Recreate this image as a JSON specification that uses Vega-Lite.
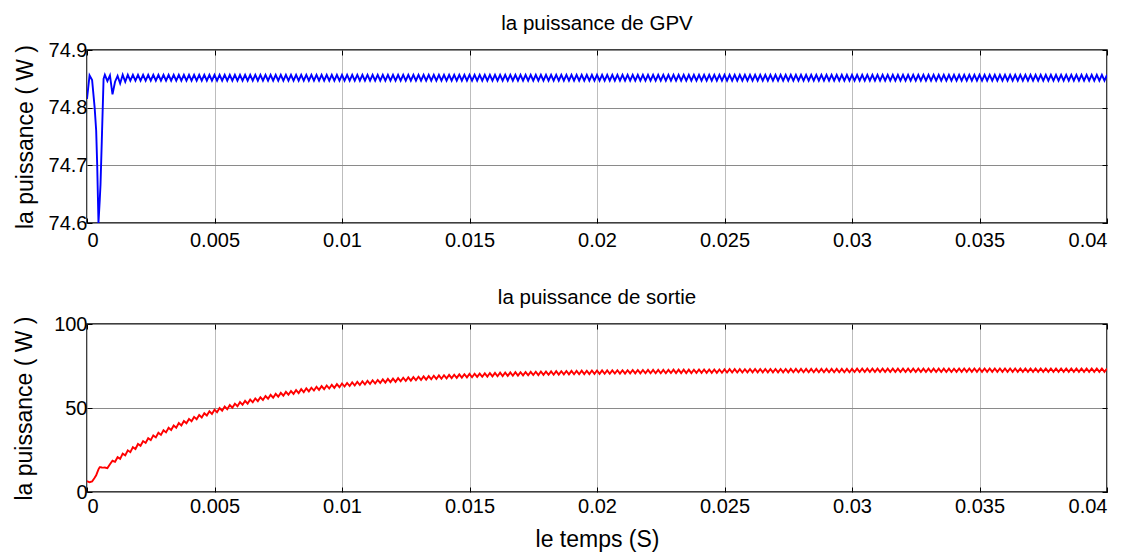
{
"$schema":"https://vega.github.io/schema/vega-lite/v6.json",
"background":"white",
"padding":{"left":12,"top":12,"right":5,"bottom":5},
"config":{
"font":"Liberation Sans",
"view":{"stroke":"black","strokeWidth":1.5},
"axis":{"labelFont":"Liberation Sans","labelFontSize":20,"labelColor":"#000","titleFont":"Liberation Sans","titleFontSize":23,"titleFontWeight":"normal","titleColor":"#000","domain":false,"grid":true,"gridWidth":1,"tickColor":"#000","tickSize":-5,"tickWidth":1,"labelPadding":5},
"axisX":{"gridColor":"#bdbdbd"},
"axisY":{"gridColor":"#8a8a8a"},
"title":{"font":"Liberation Sans","fontSize":20.5,"fontWeight":"normal","color":"#000","anchor":"middle","offset":6}
},
"spacing":101,
"bounds":"flush",
"datasets":{"d":[
{"t":0,"a":74.815,"b":6.5},
{"t":0.0001,"a":74.856,"b":5.8},
{"t":0.0002,"a":74.848,"b":6.3},
{"t":0.0003,"a":74.8,"b":8.5},
{"t":0.00036,"a":74.76,"b":10},
{"t":0.0004,"a":74.7,"b":11.5},
{"t":0.00045,"a":74.6,"b":13.5},
{"t":0.0005,"a":74.64,"b":14.8},
{"t":0.00053,"a":74.667,"b":14.8},
{"t":0.00058,"a":74.742,"b":14.6},
{"t":0.00065,"a":74.85,"b":14.5},
{"t":0.0007,"a":74.857,"b":14.6},
{"t":0.0008,"a":74.846,"b":14.2},
{"t":0.0009,"a":74.856,"b":16.5},
{"t":0.0010,"a":74.823,"b":18.6},
{"t":0.0011,"a":74.845,"b":18.0},
{"t":0.0012,"a":74.855,"b":20.7},
{"t":0.0013,"a":74.842,"b":19.7},
{"t":0.0014,"a":74.857,"b":22.8},
{"t":0.0015,"a":74.845,"b":21.8},
{"t":0.0016,"a":74.857,"b":24.8},
{"t":0.0017,"a":74.847,"b":23.7},
{"t":0.0018,"a":74.857,"b":26.7},
{"t":0.0019,"a":74.847,"b":25.6},
{"t":0.0020,"a":74.857,"b":28.6},
{"t":0.0021,"a":74.847,"b":27.5},
{"t":0.0022,"a":74.857,"b":30.3},
{"t":0.0023,"a":74.847,"b":29.2},
{"t":0.0024,"a":74.857,"b":32.0},
{"t":0.0025,"a":74.847,"b":30.9},
{"t":0.0026,"a":74.857,"b":33.7},
{"t":0.0027,"a":74.847,"b":32.5},
{"t":0.0028,"a":74.857,"b":35.3},
{"t":0.0029,"a":74.847,"b":34.0},
{"t":0.0030,"a":74.857,"b":36.8},
{"t":0.0031,"a":74.847,"b":35.5},
{"t":0.0032,"a":74.857,"b":38.2},
{"t":0.0033,"a":74.847,"b":36.9},
{"t":0.0034,"a":74.857,"b":39.6},
{"t":0.0035,"a":74.847,"b":38.3},
{"t":0.0036,"a":74.857,"b":41.0},
{"t":0.0037,"a":74.847,"b":39.6},
{"t":0.0038,"a":74.857,"b":42.3},
{"t":0.0039,"a":74.847,"b":40.9},
{"t":0.0040,"a":74.857,"b":43.5},
{"t":0.0041,"a":74.847,"b":42.1},
{"t":0.0042,"a":74.857,"b":44.7},
{"t":0.0043,"a":74.847,"b":43.3},
{"t":0.0044,"a":74.857,"b":45.8},
{"t":0.0045,"a":74.847,"b":44.4},
{"t":0.0046,"a":74.857,"b":46.9},
{"t":0.0047,"a":74.847,"b":45.5},
{"t":0.0048,"a":74.857,"b":48.0},
{"t":0.0049,"a":74.847,"b":46.5},
{"t":0.0050,"a":74.857,"b":49.0},
{"t":0.0051,"a":74.847,"b":47.5},
{"t":0.0052,"a":74.857,"b":50.0},
{"t":0.0053,"a":74.847,"b":48.4},
{"t":0.0054,"a":74.857,"b":50.9},
{"t":0.0055,"a":74.847,"b":49.3},
{"t":0.0056,"a":74.857,"b":51.8},
{"t":0.0057,"a":74.847,"b":50.2},
{"t":0.0058,"a":74.857,"b":52.6},
{"t":0.0059,"a":74.847,"b":51.1},
{"t":0.0060,"a":74.857,"b":53.5},
{"t":0.0061,"a":74.847,"b":51.9},
{"t":0.0062,"a":74.857,"b":54.3},
{"t":0.0063,"a":74.847,"b":52.6},
{"t":0.0064,"a":74.857,"b":55.0},
{"t":0.0065,"a":74.847,"b":53.4},
{"t":0.0066,"a":74.857,"b":55.7},
{"t":0.0067,"a":74.847,"b":54.1},
{"t":0.0068,"a":74.857,"b":56.4},
{"t":0.0069,"a":74.847,"b":54.8},
{"t":0.0070,"a":74.857,"b":57.1},
{"t":0.0071,"a":74.847,"b":55.5},
{"t":0.0072,"a":74.857,"b":57.8},
{"t":0.0073,"a":74.847,"b":56.1},
{"t":0.0074,"a":74.857,"b":58.4},
{"t":0.0075,"a":74.847,"b":56.7},
{"t":0.0076,"a":74.857,"b":59.0},
{"t":0.0077,"a":74.847,"b":57.3},
{"t":0.0078,"a":74.857,"b":59.6},
{"t":0.0079,"a":74.847,"b":57.9},
{"t":0.0080,"a":74.857,"b":60.1},
{"t":0.0081,"a":74.847,"b":58.4},
{"t":0.0082,"a":74.857,"b":60.7},
{"t":0.0083,"a":74.847,"b":58.9},
{"t":0.0084,"a":74.857,"b":61.2},
{"t":0.0085,"a":74.847,"b":59.4},
{"t":0.0086,"a":74.857,"b":61.7},
{"t":0.0087,"a":74.847,"b":59.9},
{"t":0.0088,"a":74.857,"b":62.1},
{"t":0.0089,"a":74.847,"b":60.4},
{"t":0.0090,"a":74.857,"b":62.6},
{"t":0.0091,"a":74.847,"b":60.8},
{"t":0.0092,"a":74.857,"b":63.0},
{"t":0.0093,"a":74.847,"b":61.2},
{"t":0.0094,"a":74.857,"b":63.4},
{"t":0.0095,"a":74.847,"b":61.6},
{"t":0.0096,"a":74.857,"b":63.8},
{"t":0.0097,"a":74.847,"b":62.0},
{"t":0.0098,"a":74.857,"b":64.2},
{"t":0.0099,"a":74.847,"b":62.4},
{"t":0.0100,"a":74.857,"b":64.6},
{"t":0.0101,"a":74.847,"b":62.8},
{"t":0.0102,"a":74.857,"b":64.9},
{"t":0.0103,"a":74.847,"b":63.1},
{"t":0.0104,"a":74.857,"b":65.3},
{"t":0.0105,"a":74.847,"b":63.4},
{"t":0.0106,"a":74.857,"b":65.6},
{"t":0.0107,"a":74.847,"b":63.7},
{"t":0.0108,"a":74.857,"b":65.9},
{"t":0.0109,"a":74.847,"b":64.0},
{"t":0.0110,"a":74.857,"b":66.2},
{"t":0.0111,"a":74.847,"b":64.3},
{"t":0.0112,"a":74.857,"b":66.5},
{"t":0.0113,"a":74.847,"b":64.6},
{"t":0.0114,"a":74.857,"b":66.7},
{"t":0.0115,"a":74.847,"b":64.9},
{"t":0.0116,"a":74.857,"b":67.0},
{"t":0.0117,"a":74.847,"b":65.1},
{"t":0.0118,"a":74.857,"b":67.3},
{"t":0.0119,"a":74.847,"b":65.4},
{"t":0.0120,"a":74.857,"b":67.5},
{"t":0.0121,"a":74.847,"b":65.6},
{"t":0.0122,"a":74.857,"b":67.8},
{"t":0.0123,"a":74.847,"b":65.9},
{"t":0.0124,"a":74.857,"b":68.0},
{"t":0.0125,"a":74.847,"b":66.1},
{"t":0.0126,"a":74.857,"b":68.2},
{"t":0.0127,"a":74.847,"b":66.3},
{"t":0.0128,"a":74.857,"b":68.4},
{"t":0.0129,"a":74.847,"b":66.5},
{"t":0.0130,"a":74.857,"b":68.6},
{"t":0.0131,"a":74.847,"b":66.7},
{"t":0.0132,"a":74.857,"b":68.8},
{"t":0.0133,"a":74.847,"b":66.9},
{"t":0.0134,"a":74.857,"b":69.0},
{"t":0.0135,"a":74.847,"b":67.1},
{"t":0.0136,"a":74.857,"b":69.2},
{"t":0.0137,"a":74.847,"b":67.3},
{"t":0.0138,"a":74.857,"b":69.4},
{"t":0.0139,"a":74.847,"b":67.4},
{"t":0.0140,"a":74.857,"b":69.5},
{"t":0.0141,"a":74.847,"b":67.6},
{"t":0.0142,"a":74.857,"b":69.7},
{"t":0.0143,"a":74.847,"b":67.8},
{"t":0.0144,"a":74.857,"b":69.8},
{"t":0.0145,"a":74.847,"b":67.9},
{"t":0.0146,"a":74.857,"b":70.0},
{"t":0.0147,"a":74.847,"b":68.1},
{"t":0.0148,"a":74.857,"b":70.1},
{"t":0.0149,"a":74.847,"b":68.2},
{"t":0.0150,"a":74.857,"b":70.3},
{"t":0.0151,"a":74.847,"b":68.3},
{"t":0.0152,"a":74.857,"b":70.4},
{"t":0.0153,"a":74.847,"b":68.5},
{"t":0.0154,"a":74.857,"b":70.5},
{"t":0.0155,"a":74.847,"b":68.6},
{"t":0.0156,"a":74.857,"b":70.6},
{"t":0.0157,"a":74.847,"b":68.7},
{"t":0.0158,"a":74.857,"b":70.8},
{"t":0.0159,"a":74.847,"b":68.8},
{"t":0.0160,"a":74.857,"b":70.9},
{"t":0.0161,"a":74.847,"b":68.9},
{"t":0.0162,"a":74.857,"b":71.0},
{"t":0.0163,"a":74.847,"b":69.0},
{"t":0.0164,"a":74.857,"b":71.1},
{"t":0.0165,"a":74.847,"b":69.1},
{"t":0.0166,"a":74.857,"b":71.2},
{"t":0.0167,"a":74.847,"b":69.2},
{"t":0.0168,"a":74.857,"b":71.3},
{"t":0.0169,"a":74.847,"b":69.3},
{"t":0.0170,"a":74.857,"b":71.3},
{"t":0.0171,"a":74.847,"b":69.4},
{"t":0.0172,"a":74.857,"b":71.4},
{"t":0.0173,"a":74.847,"b":69.5},
{"t":0.0174,"a":74.857,"b":71.5},
{"t":0.0175,"a":74.847,"b":69.6},
{"t":0.0176,"a":74.857,"b":71.6},
{"t":0.0177,"a":74.847,"b":69.6},
{"t":0.0178,"a":74.857,"b":71.7},
{"t":0.0179,"a":74.847,"b":69.7},
{"t":0.0180,"a":74.857,"b":71.7},
{"t":0.0181,"a":74.847,"b":69.8},
{"t":0.0182,"a":74.857,"b":71.8},
{"t":0.0183,"a":74.847,"b":69.8},
{"t":0.0184,"a":74.857,"b":71.9},
{"t":0.0185,"a":74.847,"b":69.9},
{"t":0.0186,"a":74.857,"b":71.9},
{"t":0.0187,"a":74.847,"b":70.0},
{"t":0.0188,"a":74.857,"b":72.0},
{"t":0.0189,"a":74.847,"b":70.0},
{"t":0.0190,"a":74.857,"b":72.1},
{"t":0.0191,"a":74.847,"b":70.1},
{"t":0.0192,"a":74.857,"b":72.1},
{"t":0.0193,"a":74.847,"b":70.1},
{"t":0.0194,"a":74.857,"b":72.2},
{"t":0.0195,"a":74.847,"b":70.2},
{"t":0.0196,"a":74.857,"b":72.2},
{"t":0.0197,"a":74.847,"b":70.2},
{"t":0.0198,"a":74.857,"b":72.3},
{"t":0.0199,"a":74.847,"b":70.3},
{"t":0.0200,"a":74.857,"b":72.3},
{"t":0.0201,"a":74.847,"b":70.3},
{"t":0.0202,"a":74.857,"b":72.4},
{"t":0.0203,"a":74.847,"b":70.4},
{"t":0.0204,"a":74.857,"b":72.4},
{"t":0.0205,"a":74.847,"b":70.4},
{"t":0.0206,"a":74.857,"b":72.4},
{"t":0.0207,"a":74.847,"b":70.5},
{"t":0.0208,"a":74.857,"b":72.5},
{"t":0.0209,"a":74.847,"b":70.5},
{"t":0.0210,"a":74.857,"b":72.5},
{"t":0.0211,"a":74.847,"b":70.5},
{"t":0.0212,"a":74.857,"b":72.5},
{"t":0.0213,"a":74.847,"b":70.6},
{"t":0.0214,"a":74.857,"b":72.6},
{"t":0.0215,"a":74.847,"b":70.6},
{"t":0.0216,"a":74.857,"b":72.6},
{"t":0.0217,"a":74.847,"b":70.6},
{"t":0.0218,"a":74.857,"b":72.6},
{"t":0.0219,"a":74.847,"b":70.7},
{"t":0.0220,"a":74.857,"b":72.7},
{"t":0.0221,"a":74.847,"b":70.7},
{"t":0.0222,"a":74.857,"b":72.7},
{"t":0.0223,"a":74.847,"b":70.7},
{"t":0.0224,"a":74.857,"b":72.7},
{"t":0.0225,"a":74.847,"b":70.7},
{"t":0.0226,"a":74.857,"b":72.7},
{"t":0.0227,"a":74.847,"b":70.7},
{"t":0.0228,"a":74.857,"b":72.7},
{"t":0.0229,"a":74.847,"b":70.8},
{"t":0.0230,"a":74.857,"b":72.8},
{"t":0.0231,"a":74.847,"b":70.8},
{"t":0.0232,"a":74.857,"b":72.8},
{"t":0.0233,"a":74.847,"b":70.8},
{"t":0.0234,"a":74.857,"b":72.8},
{"t":0.0235,"a":74.847,"b":70.8},
{"t":0.0236,"a":74.857,"b":72.8},
{"t":0.0237,"a":74.847,"b":70.8},
{"t":0.0238,"a":74.857,"b":72.8},
{"t":0.0239,"a":74.847,"b":70.9},
{"t":0.0240,"a":74.857,"b":72.9},
{"t":0.0241,"a":74.847,"b":70.9},
{"t":0.0242,"a":74.857,"b":72.9},
{"t":0.0243,"a":74.847,"b":70.9},
{"t":0.0244,"a":74.857,"b":72.9},
{"t":0.0245,"a":74.847,"b":70.9},
{"t":0.0246,"a":74.857,"b":72.9},
{"t":0.0247,"a":74.847,"b":70.9},
{"t":0.0248,"a":74.857,"b":72.9},
{"t":0.0249,"a":74.847,"b":71.0},
{"t":0.0250,"a":74.857,"b":73.0},
{"t":0.0251,"a":74.847,"b":71.1},
{"t":0.0252,"a":74.857,"b":73.1},
{"t":0.0253,"a":74.847,"b":71.1},
{"t":0.0254,"a":74.857,"b":73.1},
{"t":0.0255,"a":74.847,"b":71.1},
{"t":0.0256,"a":74.857,"b":73.1},
{"t":0.0257,"a":74.847,"b":71.1},
{"t":0.0258,"a":74.857,"b":73.1},
{"t":0.0259,"a":74.847,"b":71.2},
{"t":0.0260,"a":74.857,"b":73.2},
{"t":0.0261,"a":74.847,"b":71.2},
{"t":0.0262,"a":74.857,"b":73.2},
{"t":0.0263,"a":74.847,"b":71.2},
{"t":0.0264,"a":74.857,"b":73.2},
{"t":0.0265,"a":74.847,"b":71.2},
{"t":0.0266,"a":74.857,"b":73.2},
{"t":0.0267,"a":74.847,"b":71.2},
{"t":0.0268,"a":74.857,"b":73.2},
{"t":0.0269,"a":74.847,"b":71.2},
{"t":0.0270,"a":74.857,"b":73.2},
{"t":0.0271,"a":74.847,"b":71.2},
{"t":0.0272,"a":74.857,"b":73.2},
{"t":0.0273,"a":74.847,"b":71.2},
{"t":0.0274,"a":74.857,"b":73.2},
{"t":0.0275,"a":74.847,"b":71.2},
{"t":0.0276,"a":74.857,"b":73.3},
{"t":0.0277,"a":74.847,"b":71.3},
{"t":0.0278,"a":74.857,"b":73.3},
{"t":0.0279,"a":74.847,"b":71.3},
{"t":0.0280,"a":74.857,"b":73.3},
{"t":0.0281,"a":74.847,"b":71.3},
{"t":0.0282,"a":74.857,"b":73.3},
{"t":0.0283,"a":74.847,"b":71.3},
{"t":0.0284,"a":74.857,"b":73.3},
{"t":0.0285,"a":74.847,"b":71.3},
{"t":0.0286,"a":74.857,"b":73.3},
{"t":0.0287,"a":74.847,"b":71.3},
{"t":0.0288,"a":74.857,"b":73.3},
{"t":0.0289,"a":74.847,"b":71.3},
{"t":0.0290,"a":74.857,"b":73.3},
{"t":0.0291,"a":74.847,"b":71.3},
{"t":0.0292,"a":74.857,"b":73.3},
{"t":0.0293,"a":74.847,"b":71.3},
{"t":0.0294,"a":74.857,"b":73.3},
{"t":0.0295,"a":74.847,"b":71.3},
{"t":0.0296,"a":74.857,"b":73.3},
{"t":0.0297,"a":74.847,"b":71.3},
{"t":0.0298,"a":74.857,"b":73.3},
{"t":0.0299,"a":74.847,"b":71.3},
{"t":0.0300,"a":74.857,"b":73.3},
{"t":0.0301,"a":74.847,"b":71.4},
{"t":0.0302,"a":74.857,"b":73.4},
{"t":0.0303,"a":74.847,"b":71.4},
{"t":0.0304,"a":74.857,"b":73.4},
{"t":0.0305,"a":74.847,"b":71.4},
{"t":0.0306,"a":74.857,"b":73.4},
{"t":0.0307,"a":74.847,"b":71.4},
{"t":0.0308,"a":74.857,"b":73.4},
{"t":0.0309,"a":74.847,"b":71.4},
{"t":0.0310,"a":74.857,"b":73.4},
{"t":0.0311,"a":74.847,"b":71.4},
{"t":0.0312,"a":74.857,"b":73.4},
{"t":0.0313,"a":74.847,"b":71.4},
{"t":0.0314,"a":74.857,"b":73.4},
{"t":0.0315,"a":74.847,"b":71.4},
{"t":0.0316,"a":74.857,"b":73.4},
{"t":0.0317,"a":74.847,"b":71.4},
{"t":0.0318,"a":74.857,"b":73.4},
{"t":0.0319,"a":74.847,"b":71.4},
{"t":0.0320,"a":74.857,"b":73.4},
{"t":0.0321,"a":74.847,"b":71.4},
{"t":0.0322,"a":74.857,"b":73.4},
{"t":0.0323,"a":74.847,"b":71.4},
{"t":0.0324,"a":74.857,"b":73.4},
{"t":0.0325,"a":74.847,"b":71.4},
{"t":0.0326,"a":74.857,"b":73.4},
{"t":0.0327,"a":74.847,"b":71.4},
{"t":0.0328,"a":74.857,"b":73.4},
{"t":0.0329,"a":74.847,"b":71.4},
{"t":0.0330,"a":74.857,"b":73.4},
{"t":0.0331,"a":74.847,"b":71.4},
{"t":0.0332,"a":74.857,"b":73.4},
{"t":0.0333,"a":74.847,"b":71.4},
{"t":0.0334,"a":74.857,"b":73.4},
{"t":0.0335,"a":74.847,"b":71.4},
{"t":0.0336,"a":74.857,"b":73.4},
{"t":0.0337,"a":74.847,"b":71.4},
{"t":0.0338,"a":74.857,"b":73.4},
{"t":0.0339,"a":74.847,"b":71.4},
{"t":0.0340,"a":74.857,"b":73.4},
{"t":0.0341,"a":74.847,"b":71.5},
{"t":0.0342,"a":74.857,"b":73.5},
{"t":0.0343,"a":74.847,"b":71.5},
{"t":0.0344,"a":74.857,"b":73.5},
{"t":0.0345,"a":74.847,"b":71.5},
{"t":0.0346,"a":74.857,"b":73.5},
{"t":0.0347,"a":74.847,"b":71.5},
{"t":0.0348,"a":74.857,"b":73.5},
{"t":0.0349,"a":74.847,"b":71.5},
{"t":0.0350,"a":74.857,"b":73.5},
{"t":0.0351,"a":74.847,"b":71.5},
{"t":0.0352,"a":74.857,"b":73.5},
{"t":0.0353,"a":74.847,"b":71.5},
{"t":0.0354,"a":74.857,"b":73.5},
{"t":0.0355,"a":74.847,"b":71.5},
{"t":0.0356,"a":74.857,"b":73.5},
{"t":0.0357,"a":74.847,"b":71.5},
{"t":0.0358,"a":74.857,"b":73.5},
{"t":0.0359,"a":74.847,"b":71.5},
{"t":0.0360,"a":74.857,"b":73.5},
{"t":0.0361,"a":74.847,"b":71.5},
{"t":0.0362,"a":74.857,"b":73.5},
{"t":0.0363,"a":74.847,"b":71.5},
{"t":0.0364,"a":74.857,"b":73.5},
{"t":0.0365,"a":74.847,"b":71.5},
{"t":0.0366,"a":74.857,"b":73.5},
{"t":0.0367,"a":74.847,"b":71.5},
{"t":0.0368,"a":74.857,"b":73.5},
{"t":0.0369,"a":74.847,"b":71.5},
{"t":0.0370,"a":74.857,"b":73.5},
{"t":0.0371,"a":74.847,"b":71.5},
{"t":0.0372,"a":74.857,"b":73.5},
{"t":0.0373,"a":74.847,"b":71.5},
{"t":0.0374,"a":74.857,"b":73.5},
{"t":0.0375,"a":74.847,"b":71.5},
{"t":0.0376,"a":74.857,"b":73.5},
{"t":0.0377,"a":74.847,"b":71.5},
{"t":0.0378,"a":74.857,"b":73.5},
{"t":0.0379,"a":74.847,"b":71.5},
{"t":0.0380,"a":74.857,"b":73.5},
{"t":0.0381,"a":74.847,"b":71.5},
{"t":0.0382,"a":74.857,"b":73.5},
{"t":0.0383,"a":74.847,"b":71.5},
{"t":0.0384,"a":74.857,"b":73.5},
{"t":0.0385,"a":74.847,"b":71.5},
{"t":0.0386,"a":74.857,"b":73.5},
{"t":0.0387,"a":74.847,"b":71.5},
{"t":0.0388,"a":74.857,"b":73.5},
{"t":0.0389,"a":74.847,"b":71.5},
{"t":0.0390,"a":74.857,"b":73.5},
{"t":0.0391,"a":74.847,"b":71.5},
{"t":0.0392,"a":74.857,"b":73.5},
{"t":0.0393,"a":74.847,"b":71.5},
{"t":0.0394,"a":74.857,"b":73.5},
{"t":0.0395,"a":74.847,"b":71.5},
{"t":0.0396,"a":74.857,"b":73.5},
{"t":0.0397,"a":74.847,"b":71.5},
{"t":0.0398,"a":74.857,"b":73.5},
{"t":0.0399,"a":74.847,"b":71.5},
{"t":0.0400,"a":74.857,"b":73.5}
]},
"vconcat":[
{"width":1020,"height":173,"title":"la puissance de GPV","data":{"name":"d"},
"resolve":{"axis":{"x":"independent","y":"independent"}},
"layer":[
{"mark":{"type":"line","color":"#0000ff","strokeWidth":1.9,"clip":true},
"encoding":{
"x":{"field":"t","type":"quantitative","scale":{"domain":[0,0.04],"nice":false,"zero":false},"axis":{"values":[0,0.005,0.01,0.015,0.02,0.025,0.03,0.035,0.04],"format":"~g","title":null,"labelPadding":12}},
"y":{"field":"a","type":"quantitative","scale":{"domain":[74.6,74.9],"nice":false,"zero":false},"axis":{"values":[74.6,74.7,74.8,74.9],"format":".1f","title":"la puissance ( W )","titlePadding":11}}}},
{"mark":{"type":"line","opacity":0},
"encoding":{
"x":{"field":"t","type":"quantitative","axis":{"orient":"top","values":[0,0.005,0.01,0.015,0.02,0.025,0.03,0.035,0.04],"labels":false,"grid":false,"title":null}},
"y":{"field":"a","type":"quantitative","axis":{"orient":"right","values":[74.6,74.7,74.8,74.9],"labels":false,"grid":false,"title":null}}}}
]},
{"width":1020,"height":168,"title":"la puissance de sortie","data":{"name":"d"},
"resolve":{"axis":{"x":"independent","y":"independent"}},
"layer":[
{"mark":{"type":"line","color":"#ff0000","strokeWidth":1.9,"clip":true},
"encoding":{
"x":{"field":"t","type":"quantitative","scale":{"domain":[0,0.04],"nice":false,"zero":false},"axis":{"values":[0,0.005,0.01,0.015,0.02,0.025,0.03,0.035,0.04],"format":"~g","title":"le temps (S)","labelPadding":9,"titlePadding":12}},
"y":{"field":"b","type":"quantitative","scale":{"domain":[0,100],"nice":false,"zero":false},"axis":{"values":[0,50,100],"format":"d","title":"la puissance ( W )","titlePadding":17}}}},
{"mark":{"type":"line","opacity":0},
"encoding":{
"x":{"field":"t","type":"quantitative","axis":{"orient":"top","values":[0,0.005,0.01,0.015,0.02,0.025,0.03,0.035,0.04],"labels":false,"grid":false,"title":null}},
"y":{"field":"b","type":"quantitative","axis":{"orient":"right","values":[0,50,100],"labels":false,"grid":false,"title":null}}}}
]}
]
}
